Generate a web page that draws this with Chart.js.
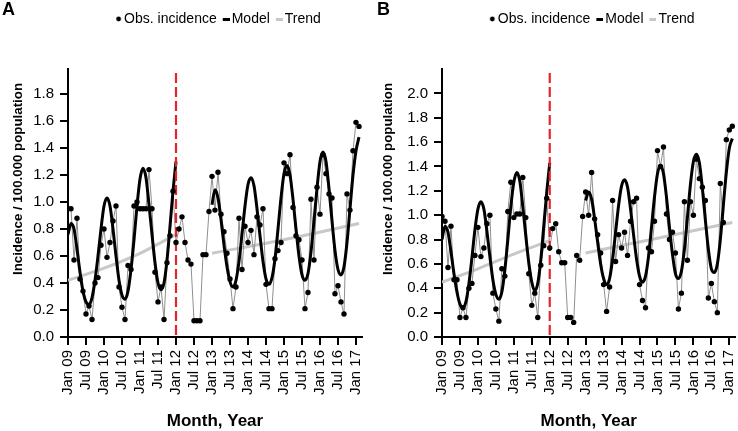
<!DOCTYPE html>
<html><head><meta charset="utf-8">
<script src="https://cdn.jsdelivr.net/npm/chart.js@4.4.1/dist/chart.umd.min.js"></script>
<style>
html,body{margin:0;padding:0;background:#fff;}
body{width:738px;height:431px;position:relative;overflow:hidden;font-family:"Liberation Sans",Arial,sans-serif;}
.panel{position:absolute;top:0;width:369px;height:431px;}
.lbl{position:absolute;top:0;font:bold 18px/18px "Liberation Sans",Arial,sans-serif;color:#000;}
</style></head><body>
<div class="panel" style="left:0"><canvas id="ca"></canvas></div>
<div class="panel" style="left:369px"><canvas id="cb"></canvas></div>
<div class="lbl" style="left:2px">A</div>
<div class="lbl" style="left:377px">B</div>
<script>
// ---------- data ----------
const tickLabels = ["Jan 09","Jul 09","Jan 10","Jul 10","Jan 11","Jul 11","Jan 12","Jul 12","Jan 13","Jul 13","Jan 14","Jul 14","Jan 15","Jul 15","Jan 16","Jul 16","Jan 17"];
const tickMonths = [0,6,12,18,24,30,36,42,48,54,60,66,72,78,84,90,96];
const cutMonth = 36; // Jan 12
const yTicksA = [0,0.2,0.4,0.6,0.8,1.0,1.2,1.4,1.6,1.8];
const yTicksB = [0,0.2,0.4,0.6,0.8,1.0,1.2,1.4,1.6,1.8,2.0];
const yMaxA = 1.985;
const yMaxB = 2.2;

// observed incidence, one value per month from Jan 09 (index 0) to Feb 17 (index 97)
const obsA = [0.95,0.95,0.57,0.88,0.43,0.34,0.17,0.23,0.13,0.40,0.44,0.68,
  0.80,0.59,0.70,0.86,0.97,0.37,0.22,0.13,0.53,0.50,0.97,1.00,
  0.95,0.95,0.95,1.24,0.95,0.48,0.26,0.37,0.13,0.55,0.75,1.08,
  0.70,0.80,0.89,0.70,0.57,0.54,0.12,0.12,0.12,0.61,0.61,0.93,
  1.19,0.94,1.22,0.91,0.78,0.62,0.43,0.21,0.37,0.88,0.50,0.82,
  0.70,0.79,0.61,0.89,0.83,0.95,0.39,0.21,0.21,0.58,0.64,0.70,
  1.29,1.21,1.35,0.96,0.75,0.72,0.57,0.21,0.33,1.02,0.57,1.11,
  0.91,1.35,1.21,1.06,1.03,0.32,0.38,0.26,0.17,1.06,0.94,1.38,
  1.59,1.56];
const modelA = [0.76,0.84,0.80,0.65,0.48,0.34,0.26,0.24,0.29,0.42,0.60,0.80,
  0.97,1.03,0.97,0.80,0.60,0.42,0.31,0.28,0.34,0.50,0.72,0.97,
  1.17,1.25,1.18,0.98,0.76,0.55,0.40,0.35,0.40,0.57,0.82,1.08,
  1.30,null,null,null,null,null,null,null,null,null,null,null,
  0.98,1.09,1.03,0.87,0.68,0.52,0.41,0.37,0.42,0.56,0.76,0.97,
  1.13,1.18,1.12,0.95,0.75,0.56,0.43,0.39,0.44,0.58,0.80,1.03,
  1.21,1.27,1.20,1.02,0.80,0.60,0.46,0.42,0.47,0.63,0.86,1.10,
  1.30,1.37,1.30,1.10,0.86,0.64,0.50,0.46,0.52,0.70,0.95,1.20,
  1.38,1.48];
const trendA_0911 = [[0,0.42],[12,0.51],[24,0.62],[36,0.76]];
const trendA_1317 = [[48,0.62],[72,0.72],[97,0.84]];

const obsB = [0.99,0.95,0.57,0.91,0.47,0.47,0.16,0.24,0.16,0.40,0.44,0.67,
  0.90,0.66,0.73,0.93,1.00,0.36,0.23,0.13,0.56,0.50,1.03,1.27,
  0.98,1.01,1.01,1.31,0.98,0.52,0.26,0.36,0.16,0.59,0.75,1.14,
  0.73,0.89,0.93,0.70,0.61,0.61,0.16,0.16,0.12,0.67,0.63,0.99,
  1.19,1.00,1.35,0.97,0.84,0.69,0.43,0.21,0.41,1.12,0.62,0.84,
  0.73,0.86,0.67,0.95,1.11,1.14,0.43,0.30,0.24,0.73,0.70,0.95,
  1.53,1.40,1.56,1.01,0.80,0.86,0.69,0.23,0.36,1.11,0.63,1.11,
  1.00,1.46,1.30,1.23,1.12,0.32,0.44,0.29,0.20,1.26,0.94,1.62,
  1.70,1.73];
const modelB = [0.80,0.91,0.86,0.70,0.52,0.37,0.27,0.24,0.29,0.44,0.65,0.88,
  1.05,1.11,1.05,0.87,0.66,0.47,0.35,0.31,0.37,0.55,0.80,1.07,
  1.27,1.35,1.28,1.07,0.83,0.61,0.45,0.38,0.44,0.63,0.91,1.19,
  1.43,null,null,null,null,null,null,null,null,null,null,null,
  1.12,1.19,1.13,0.97,0.78,0.60,0.48,0.43,0.48,0.64,0.86,1.08,
  1.24,1.29,1.23,1.05,0.84,0.64,0.50,0.45,0.50,0.66,0.90,1.15,
  1.34,1.41,1.34,1.15,0.90,0.68,0.52,0.48,0.54,0.72,0.98,1.25,
  1.44,1.50,1.43,1.22,0.96,0.72,0.56,0.53,0.60,0.80,1.08,1.35,
  1.55,1.63];
const trendB_0911 = [[0,0.45],[12,0.56],[24,0.68],[36,0.79]];
const trendB_1317 = [[48,0.69],[72,0.81],[97,0.94]];

// ---------- styling ----------
const FONT = '"Liberation Sans", Arial, sans-serif';
Chart.defaults.font.family = FONT;
Chart.defaults.color = '#000';

function symbolCanvas(kind){
  const c = document.createElement('canvas');
  const W = 18;
  if (kind === 'dot'){
    c.width = W; c.height = 6;
    const g = c.getContext('2d');
    g.fillStyle = '#000'; g.beginPath(); g.arc(14.5, 3, 2.4, 0, Math.PI*2); g.fill();
  } else {
    c.width = W; c.height = 4;
    const g = c.getContext('2d');
    g.fillStyle = kind === 'model' ? '#000' : '#c8c8c8';
    g.fillRect(W-7, 1, 7, 3);
  }
  return c;
}
const symDot = symbolCanvas('dot'), symModel = symbolCanvas('model'), symTrend = symbolCanvas('trend');

const cutPlugin = {
  id: 'cut',
  afterDatasetDraw(chart, args, o){
    if (args.index !== 1) return;
    const xs = chart.scales.x, ys = chart.scales.y, ctx = chart.ctx;
    const x = xs.getPixelForValue(o.month);
    ctx.save();
    ctx.strokeStyle = '#e4232b'; ctx.lineWidth = 2.2; ctx.setLineDash([10,4]);
    ctx.beginPath(); ctx.moveTo(x, chart.chartArea.top + 4); ctx.lineTo(x, ys.getPixelForValue(0)); ctx.stroke();
    ctx.restore();
  }
};
const legendPos = {
  id: 'legendPos',
  afterLayout(chart){
    const lg = chart.legend; if (!lg) return;
    const ca = chart.chartArea;
    const dy = 12 - lg.top; lg.top += dy; lg.bottom += dy;
    const dx = (ca.left + ca.right)/2 - (lg.left + lg.right)/2;
    lg.left += dx; lg.right += dx;
  }
};
const yTitlePlugin = {
  id: 'ytitle',
  afterDraw(chart, args, o){
    const ctx = chart.ctx;
    ctx.save();
    ctx.translate(o.x, o.y); ctx.rotate(-Math.PI/2);
    ctx.font = 'bold 13.3px ' + FONT;
    ctx.fillStyle = '#000'; ctx.textAlign = 'center'; ctx.textBaseline = 'middle';
    ctx.fillText(o.text, 0, 0);
    ctx.restore();
  }
};

function pts(arr){ return arr.map((v,i)=>({x:i, y:v})); }
function pairPts(arr){ return arr.map(p=>({x:p[0], y:p[1]})); }

function makeChart(id, obs, model, tr1, tr2, yMax, yTicks, axisW, padRight, titleX){
  const chart = new Chart(document.getElementById(id), {
    type: 'line',
    data: { datasets: [
      { label:'Obs. incidence', data: pts(obs), showLine:false, pointRadius:2.7, pointHoverRadius:2.7,
        pointBackgroundColor:'#000', pointBorderWidth:0, borderColor:'#000', backgroundColor:'#000', borderWidth:1 },
      { label:'Model', data: pts(model), borderColor:'#000', borderWidth:3, pointRadius:0,
        tension:0.4, cubicInterpolationMode:'monotone', spanGaps:false, fill:false },
      { label:'', data: pts(obs), borderColor:'#8f8f8f', borderWidth:1, pointRadius:0, tension:0, fill:false },
      { label:'Trend', data: pairPts(tr1), borderColor:'#c8c8c8', borderWidth:3, pointRadius:0,
        tension:0.4, cubicInterpolationMode:'monotone', fill:false },
      { label:'', data: pairPts(tr2), borderColor:'#c8c8c8', borderWidth:3, pointRadius:0,
        tension:0.4, cubicInterpolationMode:'monotone', fill:false }
    ]},
    options: {
      responsive:true, maintainAspectRatio:false, animation:false, devicePixelRatio:1, events:[],
      layout: { padding: { top:45, left:0, right:padRight, bottom:0 } },
      scales: {
        x: {
          type:'linear', min:0, max:98,
          afterBuildTicks(s){ s.ticks = tickMonths.map(v=>({value:v})); },
          afterFit(s){ s.height = 94; s.paddingLeft = 0; s.paddingRight = 0; },
          ticks: { autoSkip:false, maxRotation:90, minRotation:90, padding:5, color:'#000',
            font:{ size:15 },
            callback(v){ const i = tickMonths.indexOf(v); return i >= 0 ? tickLabels[i] : ''; } },
          grid: { display:true, drawOnChartArea:false, drawTicks:true, tickLength:8, color:'#000', lineWidth:2 },
          border: { display:true, color:'#000', width:2 },
          title: { display:true, text:'Month, Year', color:'#000',
            font:{ size:17, weight:'bold', lineHeight:1 }, padding:{ top:0, bottom:1 } }
        },
        y: {
          type:'linear', min:0, max:yMax,
          afterBuildTicks(s){ s.ticks = yTicks.map(v=>({value:v})); },
          afterFit(s){ s.width = axisW; s.paddingTop = 0; s.paddingBottom = 0; },
          ticks: { padding:6, color:'#000', font:{ size:15 }, callback(v){ return Number(v).toFixed(1); } },
          grid: { display:true, drawOnChartArea:false, drawTicks:true, tickLength:8, color:'#000', lineWidth:2 },
          border: { display:true, color:'#000', width:2 },
          title: { display:false }
        }
      },
      plugins: {
        tooltip: { enabled:false },
        legend: {
          display:true, position:'top', align:'center',
          labels: {
            usePointStyle:true, boxWidth:8, boxHeight:8, padding:0, color:'#000',
            font:{ size:14 },
            generateLabels(ch){
              const items = Chart.defaults.plugins.legend.labels.generateLabels(ch);
              items.forEach(it=>{
                if (it.text === 'Obs. incidence') it.pointStyle = symDot;
                else if (it.text === 'Model') it.pointStyle = symModel;
                else if (it.text === 'Trend') it.pointStyle = symTrend;
              });
              return items;
            },
            filter(item){ return item.text !== ''; }
          }
        },
        cut: { month: cutMonth },
        ytitle: { text:'Incidence / 100.000 population', x:titleX, y:179 }
      }
    },
    plugins: [cutPlugin, legendPos, yTitlePlugin]
  });
  const d = 69 - chart.chartArea.top;
  if (Math.abs(d) > 0.01){ chart.options.layout.padding.top += d; chart.update('none'); }
  return chart;
}

makeChart('ca', obsA, modelA, trendA_0911, trendA_1317, yMaxA, yTicksA, 68, 7, 18);
makeChart('cb', obsB, modelB, trendB_0911, trendB_1317, yMaxB, yTicksB, 73, 1, 19);
</script>
</body></html>
